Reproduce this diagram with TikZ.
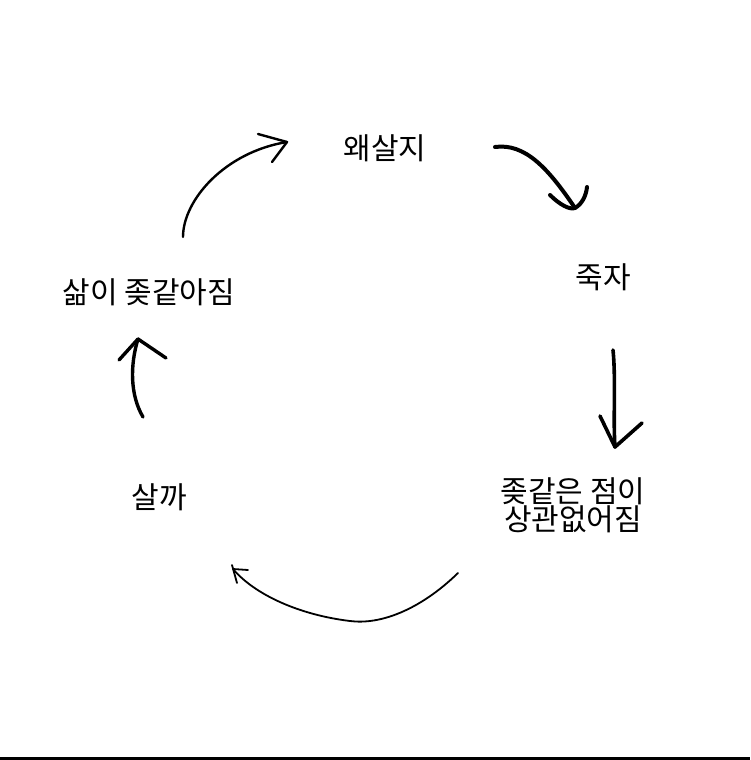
\documentclass[tikz,border=0pt]{standalone}
\usepackage{fontspec}
\setmainfont{Noto Sans CJK KR}
\begin{document}
\begin{tikzpicture}[x=1pt,y=-1pt,
  lbl/.style={inner sep=0pt,font=\fontsize{30}{28}\selectfont,align=center},
  hand/.style={draw=black,line cap=round,line join=round}]
\useasboundingbox (0,0) rectangle (750,760);
\fill[white] (0,0) rectangle (750,760);
% texts
\node[lbl] (why) at (385,148) {왜살지};
\node[lbl] (die) at (603,277) {죽자};
\node[lbl] (care) at (573,505) {좆같은 점이\\상관없어짐};
\node[lbl] (live) at (159,497) {살까};
\node[lbl] (suck) at (149,292) {삶이 좆같아짐};
% arrow coordinates
\coordinate (a1s) at (183,237); \coordinate (a1t) at (287,142);
\coordinate (a2s) at (495,147); \coordinate (a2t) at (575,208);
\coordinate (a3s) at (613,350); \coordinate (a3t) at (615,447);
\coordinate (a4s) at (458,573); \coordinate (a4t) at (233,569);
\coordinate (a5s) at (143,417); \coordinate (a5t) at (138,339);
% arrow 1 (suck -> why)
\draw[hand,line width=2.4] (a1s) .. controls (183,200) and (225,152) .. (a1t);
\draw[hand,line width=2.4] (258,134) -- (a1t) -- (272,162);
% arrow 2 (why -> die)
\draw[hand,line width=4] (a2s) .. controls (525,143) and (548,168) .. (a2t);
\draw[hand,line width=4] (550,195) .. controls (560,205) and (570,210) .. (a2t) .. controls (582,204) and (586,196) .. (587,187);
% arrow 3 (die -> care)
\draw[hand,line width=3.6] (a3s) .. controls (616,380) and (613,420) .. (a3t);
\draw[hand,line width=3.6] (600,416) -- (a3t) -- (642,423);
% arrow 4 (care -> live)
\draw[hand,line width=1.8] (a4s) .. controls (420,610) and (380,625) .. (350,621) .. controls (300,615) and (255,595) .. (a4t);
\draw[hand,line width=1.8] (237,583) -- (232,565) (a4t) -- (248,570);
% arrow 5 (live -> suck)
\draw[hand,line width=3.4] (a5s) .. controls (130,395) and (130,365) .. (a5t);
\draw[hand,line width=3.4] (119,360) -- (a5t) -- (166,358);
% bottom rule
\fill[black] (0,757) rectangle (750,760);
\end{tikzpicture}
\end{document}
